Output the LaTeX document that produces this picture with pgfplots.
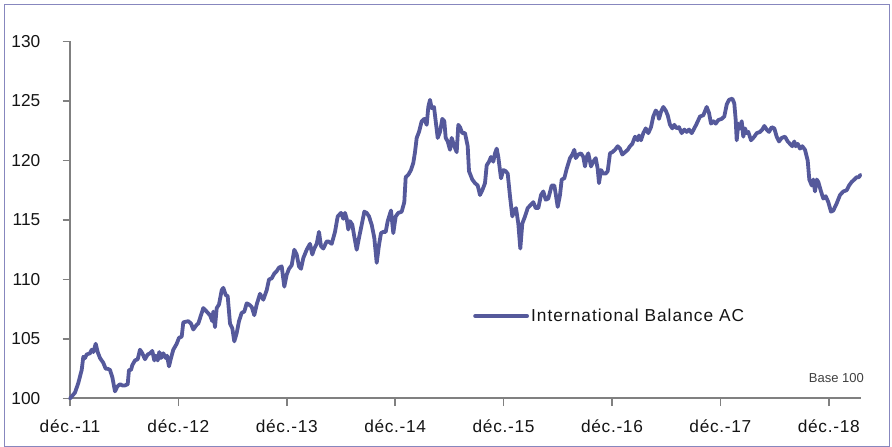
\documentclass[border=0pt]{standalone}
\usepackage{fontspec}
\setmainfont{Liberation Sans}
\newfontfamily\spfont[LetterSpace=4]{Liberation Sans}
\newfontfamily\legfont[LetterSpace=6]{Liberation Sans}
\usepackage{pgfplots}
\pgfplotsset{compat=1.18}
\definecolor{serie}{RGB}{85,89,155}
\definecolor{axisgray}{RGB}{128,128,128}
\definecolor{framec}{RGB}{135,135,190}
\definecolor{txt}{RGB}{20,20,20}
\begin{document}
\begin{tikzpicture}
\useasboundingbox (0pt,0pt) rectangle (892pt,447pt);
\draw[framec, line width=1pt] (4pt,0.5pt) rectangle (889pt,442pt);
\begin{axis}[
  at={(70pt,48.5pt)}, anchor=south west,
  scale only axis, width=791pt, height=357pt,
  xmin=70, xmax=861, ymin=100, ymax=130,
  axis lines*=left,
  axis line style={axisgray, line width=2pt},
  tick style={axisgray, line width=1.6pt},
  tick align=outside, major tick length=7.5pt,
  ytick={100,105,110,115,120,125,130},
  xtick={70,178.4,286.8,395.2,503.6,612,720.4,828.8},
  xticklabels={déc.-11,déc.-12,déc.-13,déc.-14,déc.-15,déc.-16,déc.-17,déc.-18},
  /pgf/number format/assume math mode=true,
  yticklabel style={anchor=east, inner sep=0pt, xshift=-22pt, font=\fontsize{17.3}{20}\selectfont, text=txt},
  xticklabel style={anchor=north, inner sep=0pt, yshift=-13.5pt, font=\spfont\fontsize{17.3}{20}\selectfont, text=txt},
  clip=false,
  legend style={draw=none, fill=none, at={(0.5095,0.231)}, anchor=west, inner sep=0pt,
    font=\legfont\fontsize{17.3}{20}\selectfont, text=txt},
  legend image code/.code={\draw[#1, line width=3.8pt] (0pt,0pt) -- (52pt,0pt);},
]
\addplot[serie, line width=3.8pt, line join=round, line cap=round] table {
x y
70 100.0
75 100.5
78.3 101.3
81.7 102.4
83.3 103.5
85 103.4
86.7 103.7
90 103.8
91.7 104.1
93.3 103.9
95.7 104.6
97.7 103.9
100 103.4
103.3 103.0
105.7 102.5
107.7 102.5
110 102.4
112.3 101.8
115 100.6
117.3 101.0
120 101.2
122.3 101.1
125 101.1
127.7 101.2
129 102.4
131 102.4
132.3 102.8
135 103.2
137.7 103.3
140 104.1
142.3 103.8
145 103.3
147.7 103.7
150 103.8
152.3 104.0
154.3 103.2
155.7 103.6
157.7 103.2
159.3 103.9
161 103.4
163.3 103.8
165.7 103.4
167 103.6
169 102.7
171 103.4
173.3 104.1
176.7 104.6
179 105.1
181.7 105.2
183.3 106.4
188.3 106.5
191 106.3
193.3 105.8
196.7 106.2
198.3 106.3
203.3 107.6
206.7 107.3
210 107.0
212.3 106.5
213.3 107.3
215 106.0
216.7 107.6
219 107.9
221.7 109.1
223.3 109.3
225.7 108.7
227.7 108.6
230 106.3
232.3 105.9
234.3 104.8
236.7 105.5
239 106.5
241.7 107.2
244.3 107.3
246.7 108.0
249 107.9
251.7 107.7
254.3 107.0
256.7 107.9
260 108.8
263.3 108.3
266.7 109.1
269 110.0
271.7 110.1
274.3 110.5
276.7 110.7
279 111.0
281.7 111.1
284.3 109.4
286.7 110.4
289 110.9
291.7 111.2
294.3 112.5
296.7 112.1
299 111.1
301 110.9
303.3 111.8
306.7 112.5
310 113.0
312.3 112.1
314.3 112.6
316.7 113.0
319 114.0
321 112.8
323.3 112.6
326.7 113.2
328.3 113.2
331.7 113.0
335 114.0
337.7 115.3
341 115.6
343.3 115.1
345 115.6
346.7 115.1
348.3 114.2
350 114.9
352.3 114.6
354.3 113.6
356.7 112.5
359 113.5
361.7 114.6
364.3 115.7
366.7 115.6
369 115.3
371.7 114.6
374.3 113.5
376.7 111.4
379 112.9
381 113.9
383.3 114.0
385.7 114.0
387.7 114.9
391 115.8
393.3 113.9
395.7 115.3
398.3 115.6
401.7 115.7
404.3 116.5
405.7 118.6
408.3 118.8
411 119.2
413.3 119.8
415 120.7
416.7 121.9
419 122.4
421.7 123.3
424.3 123.5
426.7 123.0
428.3 124.5
430 125.1
431.7 124.4
434 124.5
435.7 123.3
437.7 121.9
440 122.4
442.3 123.5
444.3 123.3
445.7 121.9
447.7 121.6
450 120.9
451.7 121.9
454.3 121.2
456.7 120.7
458.3 123.0
460 122.8
462.3 122.3
465 122.3
467.7 121.2
469 119.1
472.3 118.4
475 118.1
477.7 117.9
480 117.1
482.3 117.5
485 118.1
486.7 119.6
489 119.9
491 120.3
493.3 119.9
495 120.6
496.7 121.0
498.3 120.3
501 118.5
503.3 119.2
505.7 119.1
507.7 118.9
510 117.0
512.3 115.3
514.3 115.8
516 116.0
518.3 114.7
520.3 112.6
522.3 114.7
525 115.3
527.7 116.0
531 116.3
533.3 116.5
535.7 116.0
538.3 116.0
541 117.1
543.3 117.4
545.7 116.7
548.3 116.8
551.7 117.9
554.3 117.9
555.7 117.2
557.7 116.1
560 117.1
561.7 118.4
564.3 118.5
566.7 119.3
570 120.2
572.3 120.5
574.3 120.9
575.7 120.2
578.3 120.5
581 120.6
583.3 120.3
585 119.5
586.7 120.3
588.3 120.6
591 119.5
593.3 119.9
595.7 120.2
597.7 119.3
599 118.1
601 119.2
603.3 118.9
605.7 118.9
607.7 119.1
610 120.6
612.3 120.7
615 120.9
617.7 121.2
620 121.0
622.3 120.5
625 120.7
627.7 120.9
630 121.2
632.3 121.4
635 122.0
637.7 121.7
639 122.1
641 121.7
643.3 122.3
645.7 122.7
648.3 122.3
651 122.8
653.3 123.7
655.7 124.2
657.7 124.0
659 123.5
661 124.1
663.3 124.5
665.7 124.2
667.7 123.8
670 123.0
672.3 122.7
674.3 123.0
676.7 122.7
679 122.8
681.7 122.3
684.3 122.6
686.7 122.4
689 122.6
691.7 122.3
694.3 122.7
696.7 123.1
700 123.7
703.3 123.8
706.7 124.5
709 124.0
711 123.1
713.3 123.3
715.7 123.1
718.3 123.4
721.7 123.5
724.3 123.7
726.7 124.7
729 125.1
732.3 125.2
734.3 124.8
735.7 123.4
736.7 121.7
738.3 123.1
740 122.7
741.7 123.3
743.3 122.0
745 122.7
746.7 122.3
748.3 122.4
751 121.7
754.3 122.0
756.7 122.3
760 122.4
762.3 122.6
764.3 122.9
766.7 122.6
769 122.4
771.7 122.8
774.3 122.7
776.7 122.0
779 121.6
781.7 121.9
785 122.0
787.7 121.6
790 121.4
792.3 121.2
794.3 121.6
795.7 121.2
797.7 121.4
800 121.0
802.3 121.2
805 120.9
807.7 120.0
809.3 118.4
811.7 117.9
813.3 118.4
815 117.4
816.7 118.4
818.3 118.2
821 117.4
823.3 116.8
825.7 117.0
828.3 116.5
831 115.7
833.3 115.8
836.7 116.4
840 117.1
843.3 117.4
846.7 117.5
849 117.9
851.7 118.2
854.3 118.4
856.7 118.6
859 118.6
860.3 118.8
};
\addlegendentry{International Balance AC}
\node[anchor=east, inner sep=0pt, text={rgb,255:red,64;green,64;blue,64}, font=\fontsize{13}{15}\selectfont] at (rel axis cs:1.0038,0.0574) {Base 100};
\end{axis}
\end{tikzpicture}
\end{document}
